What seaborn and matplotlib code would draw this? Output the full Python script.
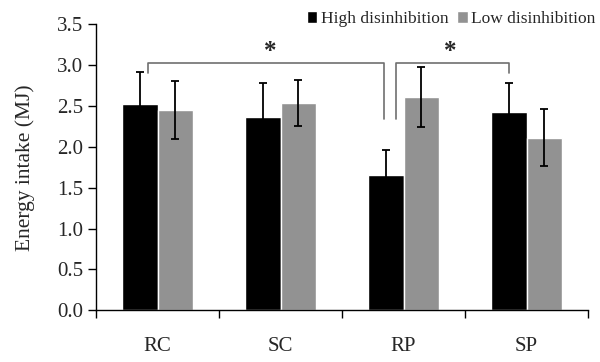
import numpy as np
import pandas as pd
import seaborn as sns
from matplotlib import pyplot as plt

# values
conditions = ["RC", "SC", "RP", "SP"]
groups = ["High disinhibition", "Low disinhibition"]
high_mean = [2.52, 2.37, 1.65, 2.43]
high_err = [0.39, 0.41, 0.31, 0.35]
low_mean = [2.45, 2.54, 2.61, 2.11]
low_err = [0.36, 0.28, 0.37, 0.35]

df = pd.DataFrame({
    "condition": conditions * 2,
    "group": [groups[0]] * 4 + [groups[1]] * 4,
    "energy": high_mean + low_mean,
    "err": high_err + low_err,
})

sns.set_theme(style="white")
plt.rcParams['font.family'] = ['Liberation Serif', 'DejaVu Serif']

fig, ax = plt.subplots(figsize=(6, 3.62), dpi=100)
fig.subplots_adjust(left=0.16, right=0.98, bottom=0.143, top=0.933)

sns.barplot(data=df, x="condition", y="energy", hue="group",
            palette=["#000000", "#929292"], width=0.57, errorbar=None,
            saturation=1, ax=ax, legend=True)

# error bars at the bar centres
for cont, grp in zip(ax.containers, groups):
    sub = df[df.group == grp]
    xs = [p.get_x() + p.get_width() / 2 for p in cont.patches]
    ax.errorbar(xs, sub.energy, yerr=sub.err, fmt="none", ecolor="black",
                elinewidth=1.3, capsize=3, capthick=1.3, zorder=5)

ax.set_ylim(0, 3.5)
ax.set_xlim(-0.5, 3.5)
ax.set_yticks(np.arange(0, 3.51, 0.5))
ax.set_yticklabels([f"{v:.1f}" for v in np.arange(0, 3.51, 0.5)])
ax.set_xticks([0, 1, 2, 3])
ax.set_xticklabels(conditions)
ax.set_xticks([-0.5, 0.5, 1.5, 2.5, 3.5], minor=True)
ax.tick_params(axis="x", which="major", length=0, pad=19, labelsize=15)
ax.tick_params(axis="x", which="minor", length=6, width=1, color="black",
               direction="out", bottom=True)
ax.tick_params(axis="y", length=6, width=1, color="black", direction="out",
               left=True, labelsize=15, pad=3)
ax.set_xlabel("")
ax.set_ylabel("Energy intake (MJ)", fontsize=15.5, labelpad=16)

for side in ["top", "right"]:
    ax.spines[side].set_visible(False)
for side in ["left", "bottom"]:
    ax.spines[side].set_color("black")
    ax.spines[side].set_linewidth(1)

# significance brackets
bc = "#6f6f6f"
ax.plot([-0.08, -0.08, 1.84, 1.84], [2.90, 3.03, 3.03, 2.34], color=bc, lw=1.2,
        clip_on=False)
ax.plot([1.94, 1.94, 2.86, 2.86], [2.34, 3.03, 3.03, 2.90], color=bc, lw=1.2,
        clip_on=False)
ax.text(0.92, 3.02, "*", ha="center", va="bottom", fontsize=18,
        fontweight="bold")
ax.text(2.38, 3.02, "*", ha="center", va="bottom", fontsize=18,
        fontweight="bold")

leg = ax.legend(loc="lower right", bbox_to_anchor=(1.015, 0.99), ncol=2,
                frameon=False, fontsize=12.5, handlelength=0.6,
                handleheight=0.6, handletextpad=0.2, columnspacing=0.5,
                borderaxespad=0, borderpad=0)

fig.savefig("out.png", dpi=100)
